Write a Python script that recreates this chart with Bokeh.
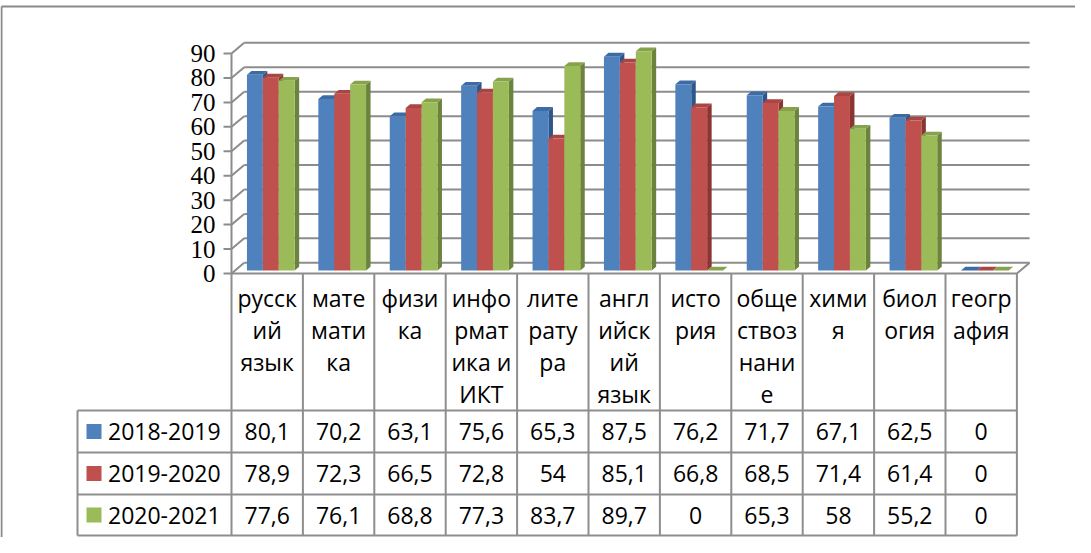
from bokeh.plotting import figure
from bokeh.models import Range1d
from bokeh.embed import file_html
from bokeh.resources import INLINE
from bokeh.core.properties import value

# ---------------- data ----------------
categories = ["русский язык", "математика", "физика", "информатика и ИКТ", "литература",
              "английский язык", "история", "обществознание", "химия", "биология", "география"]
header_lines = [["русск", "ий", "язык"], ["мате", "мати", "ка"], ["физи", "ка"],
                ["инфо", "рмат", "ика и", "ИКТ"], ["лите", "рату", "ра"],
                ["англ", "ийск", "ий", "язык"], ["исто", "рия"], ["обще", "ствоз", "нани", "е"],
                ["хими", "я"], ["биол", "огия"], ["геогр", "афия"]]
series_names = ["2018-2019", "2019-2020", "2020-2021"]
s2018 = [80.1, 70.2, 63.1, 75.6, 65.3, 87.5, 76.2, 71.7, 67.1, 62.5, 0]
s2019 = [78.9, 72.3, 66.5, 72.8, 54, 85.1, 66.8, 68.5, 71.4, 61.4, 0]
s2020 = [77.6, 76.1, 68.8, 77.3, 83.7, 89.7, 0, 65.3, 58, 55.2, 0]
y_ticks = [0, 10, 20, 30, 40, 50, 60, 70, 80, 90]

series = [s2018, s2019, s2020]
front_colors = ["#4F81BD", "#C0504D", "#9BBB59"]
top_colors = ["#3C6BA6", "#A94542", "#86A34B"]
side_colors = ["#2F5688", "#8A3532", "#6B833D"]

# ---------------- layout constants (pixels) ----------------
W, H = 1075, 537
AX_X = 231          # front-left corner of the floor
FLOOR_Y = 273       # front floor line
CAT_PX = 71.4       # width of one category
UNIT_PX = 2.444     # pixels per value unit
n = len(categories)

BACK_X, BACK_Y = 12.7 / CAT_PX, 10.7 / UNIT_PX
PLANE_X, PLANE_Y = 3.6 / CAT_PX, 3.0 / UNIT_PX
SIDE_X, SIDE_Y = 4.5 / CAT_PX, 3.8 / UNIT_PX
BAR_W = 15.9 / CAT_PX

GRID_C = "#8C8C8C"
TABLE_C = "#8E8E8E"

p = figure(width=W, height=H, output_backend="svg", toolbar_location=None,
           x_range=Range1d(-AX_X / CAT_PX, (W - AX_X) / CAT_PX),
           y_range=Range1d(-(H - FLOOR_Y) / UNIT_PX, FLOOR_Y / UNIT_PX),
           x_axis_location=None, y_axis_location=None, min_border=0,
           background_fill_color="white", border_fill_color="white")
p.outline_line_color = None
p.grid.visible = False
p.extra_x_ranges = {"px": Range1d(0, W)}
p.extra_y_ranges = {"px": Range1d(H, 0)}

# outer border
p.segment(x0=[1, 1], y0=[6, 6], x1=[1, W], y1=[H, 6], line_color="#8A8A8A", line_width=2,
          x_range_name="px", y_range_name="px")

# ---------------- 3D walls / grid ----------------
p.segment(x0=[BACK_X] * len(y_ticks), x1=[n + BACK_X] * len(y_ticks),
          y0=[t + BACK_Y for t in y_ticks], y1=[t + BACK_Y for t in y_ticks],
          line_color=GRID_C, line_width=2)
p.segment(x0=[0] * len(y_ticks), x1=[BACK_X] * len(y_ticks),
          y0=y_ticks, y1=[t + BACK_Y for t in y_ticks], line_color=GRID_C, line_width=2)
# floor front edge and right diagonal
p.line(x=[0, n, n + BACK_X], y=[0, 0, BACK_Y], line_color=GRID_C, line_width=2)
# value axis line
p.segment(x0=[0], x1=[0], y0=[y_ticks[0]], y1=[y_ticks[-1]], line_color=GRID_C, line_width=2)
# tick marks
p.segment(x0=[AX_X - 8] * len(y_ticks), x1=[AX_X] * len(y_ticks), y0=y_ticks, y1=y_ticks,
          line_color=GRID_C, line_width=2, x_range_name="px")
p.text(x=[AX_X - 16] * len(y_ticks), y=y_ticks, text=[str(t) for t in y_ticks],
       text_font=value("Liberation Serif"), text_font_size="25px", text_color="black",
       text_align="right", text_baseline="middle", x_range_name="px")

# ---------------- bars ----------------
for s, vals in enumerate(series):
    lefts = [i + 0.5 - 1.5 * BAR_W + s * BAR_W + PLANE_X for i in range(n)]
    rights = [l + BAR_W for l in lefts]
    tops = [v + PLANE_Y for v in vals]
    side_xs = [[r, r + SIDE_X, r + SIDE_X, r] for r in rights]
    side_ys = [[PLANE_Y, PLANE_Y + SIDE_Y, t + SIDE_Y, t] for t in tops]
    p.patches(xs=side_xs, ys=side_ys, fill_color=side_colors[s], line_color=None)
    top_xs = [[l, l + SIDE_X, r + SIDE_X, r] for l, r in zip(lefts, rights)]
    top_ys = [[t, t + SIDE_Y, t + SIDE_Y, t] for t in tops]
    p.patches(xs=top_xs, ys=top_ys, fill_color=top_colors[s], line_color=None)
    p.quad(left=lefts, right=rights, bottom=[PLANE_Y] * n, top=tops,
           fill_color=front_colors[s], line_color=None)

# ---------------- data table ----------------
ROW_TOPS = [410, 452, 494]
TABLE_BOTTOM = 535
LEG_LEFT = 77
TABLE_RIGHT = AX_X + n * CAT_PX

# vertical lines of category columns
p.segment(x0=list(range(n + 1)), x1=list(range(n + 1)), y0=[FLOOR_Y] * (n + 1),
          y1=[TABLE_BOTTOM] * (n + 1), line_color=TABLE_C, line_width=2, y_range_name="px")
# horizontal row lines
hy = ROW_TOPS + [TABLE_BOTTOM]
p.segment(x0=[LEG_LEFT] * len(hy), x1=[TABLE_RIGHT] * len(hy), y0=hy, y1=hy,
          line_color=TABLE_C, line_width=2, x_range_name="px", y_range_name="px")
p.segment(x0=[LEG_LEFT], x1=[LEG_LEFT], y0=[ROW_TOPS[0]], y1=[TABLE_BOTTOM],
          line_color=TABLE_C, line_width=2, x_range_name="px", y_range_name="px")

# header texts
hx, hyy, ht = [], [], []
for i, lines in enumerate(header_lines):
    for k, line in enumerate(lines):
        hx.append(i + 0.5)
        hyy.append(297 + 32.2 * k)
        ht.append(line)
p.text(x=hx, y=hyy, text=ht, text_font=value("Open Sans"), text_font_size="23px",
       text_color="black", text_align="center", text_baseline="middle", y_range_name="px")

# values and legend
row_mid = [(ROW_TOPS[r] + (ROW_TOPS + [TABLE_BOTTOM])[r + 1]) / 2 for r in range(3)]
for s, vals in enumerate(series):
    labels = [("%g" % v).replace(".", ",") for v in vals]
    p.text(x=[i + 0.5 for i in range(n)], y=[row_mid[s]] * n, text=labels,
           text_font=value("Open Sans"), text_font_size="23px", text_color="black",
           text_align="center", text_baseline="middle", y_range_name="px")
    p.rect(x=[93.5], y=[row_mid[s]], width=15, height=15, fill_color=front_colors[s],
           line_color=None, x_range_name="px", y_range_name="px")
    p.text(x=[107.5], y=[row_mid[s]], text=[series_names[s]], text_font=value("Open Sans"),
           text_font_size="23px", text_color="black", text_align="left",
           text_baseline="middle", x_range_name="px", y_range_name="px")

open("out.html", "w").write(file_html(p, INLINE))
